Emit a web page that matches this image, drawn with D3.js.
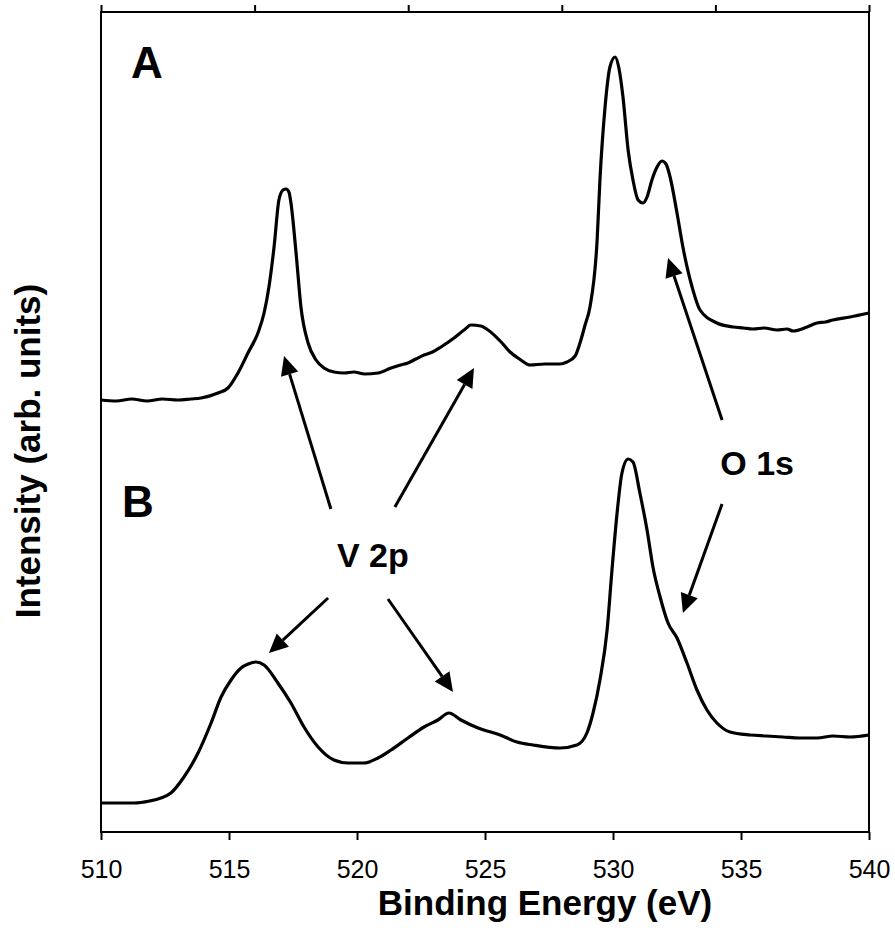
<!DOCTYPE html>
<html lang="en">
<head>
    <meta charset="UTF-8">
    <title>XPS spectra</title>
    <script src="https://d3js.org/d3.v7.min.js"></script>
    <style>
        body{ margin: 0; background: #fff; }
        .tick text{ font-family: "Liberation Sans", Arial, sans-serif; }
    </style>
</head>
<body>
    <svg id='chart' width="895" height="928"></svg>

    <script>
        // spectrum A (binding energy in eV, intensity arb.)
        let energy_A = [510.00,510.60,511.20,511.80,512.40,513.00,513.50,513.91,514.57,514.96,515.35,515.74,516.13,516.37,516.56,516.76,516.95,517.11,517.23,517.34,517.42,517.62,517.81,518.09,518.40,518.71,519.10,519.50,519.88,520.30,520.82,521.33,521.70,521.99,522.30,522.62,522.95,523.28,523.79,524.18,524.45,524.84,525.12,525.63,525.98,526.40,526.76,527.34,527.93,528.20,528.52,528.71,528.91,529.10,529.38,529.49,529.69,529.88,530.08,530.23,530.39,530.59,530.78,530.98,531.17,531.33,531.52,531.72,531.91,532.07,532.23,532.50,532.73,533.09,533.40,534.06,534.69,535.10,535.47,535.90,536.41,536.80,537.03,537.58,537.97,538.30,538.59,539.26,540.00]
        let intensity_A = [432,431,433,431,433,432,433,434,439,444,459,479,499,519,545,585,632,642,643,640,629,579,525,489,472,464,460,459,460,458,459,464,467,469,473,477,480,485,494,502,507,506,502,490,480,472,467,468,468,470,476,489,507,525,592,652,725,765,775,764,735,682,652,632,629,635,652,665,671,668,655,619,585,545,522,509,505,504,503,504,502,503,501,505,509,510,512,515,519]

        // spectrum B
        let energy_B = [510.00,510.70,511.29,511.90,512.34,512.73,513.24,513.79,514.30,514.69,515.08,515.47,515.75,516.05,516.37,516.91,517.42,517.93,518.48,519.10,519.65,520.27,520.82,521.33,521.99,522.62,523.16,523.59,524.06,524.73,525.59,526.25,526.88,527.93,528.59,528.98,529.22,529.49,529.77,529.96,530.16,530.35,530.59,530.78,531.05,531.33,531.56,531.84,532.15,532.50,532.89,533.28,533.67,534.06,534.57,535.35,536.00,536.64,537.30,537.97,538.60,539.26,540.00]
        let intensity_B = [29,29,29,31,34,39,55,79,109,135,152,164,168,170,167,149,129,105,85,72,69,69,74,82,94,105,112,119,112,104,97,90,87,84,87,99,119,152,202,262,319,359,373,370,339,302,265,235,209,194,169,142,122,109,100,97,96,95,94,94,96,95,97]

        let xTicks = [510, 515, 520, 525, 530, 535, 540]

        // annotations: [tail energy, tail intensity, tip energy, tip intensity]
        let arrows = [
            [518.98, 323, 517.15, 476],
            [521.48, 325, 524.57, 464],
            [534.26, 412, 532.15, 574],
            [518.87, 234, 516.56, 179],
            [521.21, 233, 523.75, 140],
            [534.26, 328, 532.73, 219]
        ]
        let labels = [
            {text: "A", e: 511.17, i: 754, size: 44, anchor: "start"},
            {text: "B", e: 510.82, i: 315, size: 44, anchor: "start"},
            {text: "V 2p", e: 520.62, i: 265, size: 34, anchor: "middle"},
            {text: "O 1s", e: 535.63, i: 357, size: 34, anchor: "middle"}
        ]

        let svg = d3.select("#chart")
        let mLeft = 101, mRight = 869, mTop = 12, mBottom = 832
        let font = "'Liberation Sans', Arial, sans-serif"

        let x = d3.scaleLinear().domain([510, 540]).range([mLeft, mRight])
        let y = d3.scaleLinear().domain([0, 820]).range([mBottom, mTop])
        let xTop = d3.scaleLinear().domain([0, 5]).range([mLeft, mRight])

        // bottom axis
        svg.append("g")
            .attr("transform", `translate(0,${mBottom})`)
            .call(d3.axisBottom(x).tickValues(xTicks).tickSize(8).tickSizeOuter(0).tickPadding(20))
            .call(g => g.select(".domain").remove())
            .call(g => g.selectAll("line").attr("stroke-width", 2))
            .call(g => g.selectAll("text").attr("font-size", 25).attr("fill", "#000"))

        // top axis, ticks only
        svg.append("g")
            .attr("transform", `translate(0,${mTop})`)
            .call(d3.axisTop(xTop).tickValues([0,1,2,3,4,5]).tickSize(7).tickSizeOuter(0).tickFormat(""))
            .call(g => g.select(".domain").remove())
            .call(g => g.selectAll("line").attr("stroke-width", 2))

        // frame
        svg.append("rect")
            .attr("x", mLeft).attr("y", mTop)
            .attr("width", mRight - mLeft).attr("height", mBottom - mTop)
            .attr("fill", "none").attr("stroke", "#000").attr("stroke-width", 2)

        let line = d3.line()
            .x(d => x(d[0]))
            .y(d => y(d[1]))
            .curve(d3.curveMonotoneX)

        let seriesA = d3.zip(energy_A, intensity_A)
        let seriesB = d3.zip(energy_B, intensity_B)

        svg.selectAll(".spec")
            .data([seriesA, seriesB])
            .join("path")
            .attr("class", "spec")
            .attr("d", line)
            .attr("fill", "none")
            .attr("stroke", "#000")
            .attr("stroke-width", 3.2)
            .attr("stroke-linejoin", "round")

        // arrows
        arrows.forEach(function(a){
            let x1 = x(a[0]), y1 = y(a[1]), x2 = x(a[2]), y2 = y(a[3])
            let ang = Math.atan2(y2 - y1, x2 - x1)
            let hl = 19, hw = 9
            let bx = x2 - hl * Math.cos(ang), by = y2 - hl * Math.sin(ang)
            svg.append("line")
                .attr("x1", x1).attr("y1", y1)
                .attr("x2", bx).attr("y2", by)
                .attr("stroke", "#000").attr("stroke-width", 3)
            let px = -Math.sin(ang) * hw, py = Math.cos(ang) * hw
            svg.append("path")
                .attr("d", `M${x2},${y2}L${bx + px},${by + py}L${bx - px},${by - py}Z`)
                .attr("fill", "#000")
        })

        // labels
        svg.selectAll(".lbl")
            .data(labels)
            .join("text")
            .attr("class", "lbl")
            .attr("x", d => x(d.e))
            .attr("y", d => y(d.i))
            .attr("text-anchor", d => d.anchor)
            .attr("font-family", font)
            .attr("font-weight", "bold")
            .attr("font-size", d => d.size)
            .text(d => d.text)

        // axis titles
        svg.append("text")
            .attr("x", 545).attr("y", 915)
            .attr("text-anchor", "middle")
            .attr("font-family", font).attr("font-weight", "bold").attr("font-size", 35)
            .text("Binding Energy (eV)")

        svg.append("text")
            .attr("transform", "translate(40,451) rotate(-90)")
            .attr("text-anchor", "middle")
            .attr("font-family", font).attr("font-weight", "bold").attr("font-size", 35)
            .text("Intensity (arb. units)")
    </script>
</body>
</html>
